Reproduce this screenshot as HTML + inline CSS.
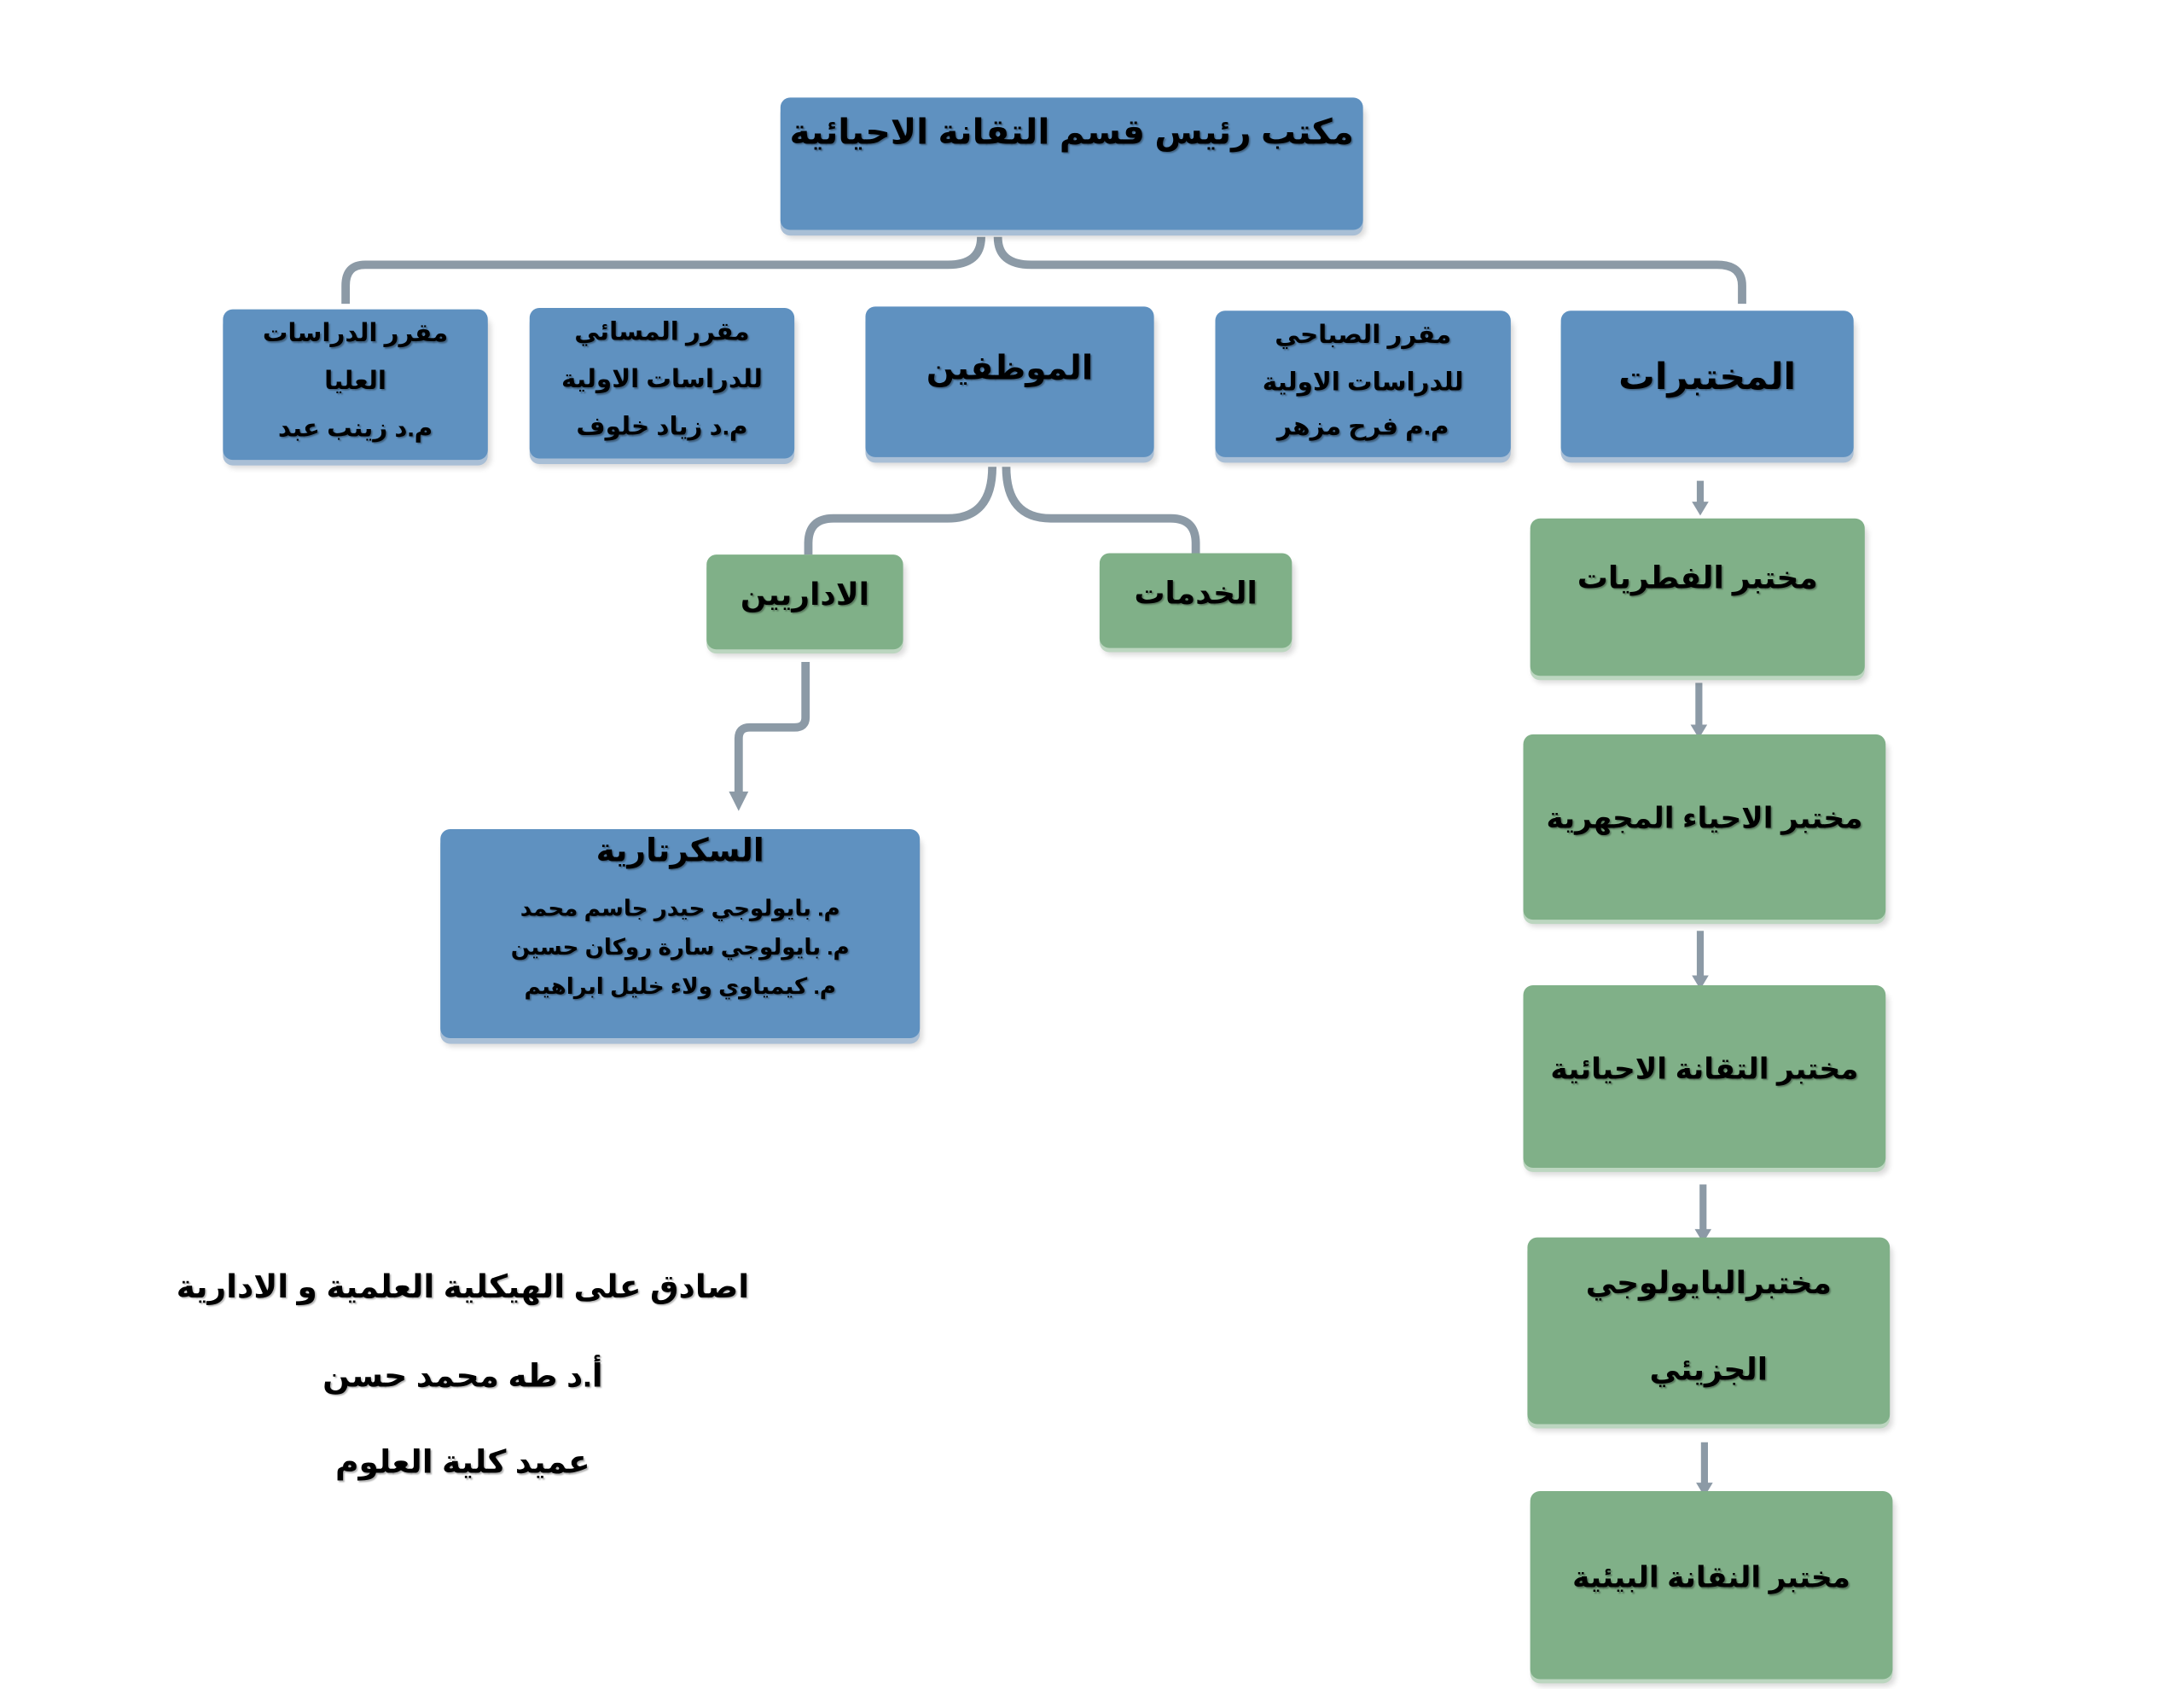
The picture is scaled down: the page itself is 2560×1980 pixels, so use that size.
<!DOCTYPE html>
<html><head><meta charset="utf-8">
<style>
html,body{margin:0;padding:0;background:#fff;width:2560px;height:1978px;overflow:hidden}
#w{position:absolute;left:0;top:0;width:1568px;height:1212px;transform:scale(1.6336);transform-origin:0 0;font-family:"Liberation Sans","DejaVu Sans",sans-serif;}
.b{position:absolute;background:#5f91c0;border-radius:7px;box-shadow:0 4px 0 #a9bfd6,2px 6px 4px rgba(0,0,0,.15);color:#000;font-weight:bold;text-align:center;direction:rtl;text-shadow:1px 1px 1px rgba(0,0,0,.35);white-space:nowrap}
.g{background:#80b088;box-shadow:0 3px 0 #bcd6c0,2px 5px 4px rgba(0,0,0,.15)}
.t{position:absolute;left:-20px;right:-20px}
svg{position:absolute;left:0;top:0}
.s{position:absolute;font-weight:bold;direction:rtl;text-align:center;width:500px;font-size:23px;white-space:nowrap;text-shadow:1px 1px 1px rgba(0,0,0,.3)}
</style></head><body><div id="w">
<svg width="1568" height="1212" fill="none" stroke="#8c9aa6" stroke-width="6">
<path d="M704 170 Q704 190 680 190 L262 190 Q248 190 248 205 L248 218"/>
<path d="M716 170 Q716 190 740 190 L1232 190 Q1250 190 1250 205 L1250 218"/>
<path d="M712 335 Q712 372 680 372 L598 372 Q580 372 580 390 L580 398"/>
<path d="M722 335 Q722 372 754 372 L840 372 Q858 372 858 390 L858 397"/>
<path d="M578 475 L578 515 Q578 522 570 522 L538 522 Q530 522 530 530 L530 570"/>
<path d="M1220 345 L1220 362 M1219 490 L1219 522 M1220 668 L1220 702 M1222 850 L1222 884 M1223 1035 L1223 1066" stroke-width="5"/>
<g fill="#8c9aa6" stroke="none">
<path d="M523 568 L537 568 L530 582Z"/>
<path d="M1214 360 L1226 360 L1220 370Z"/><path d="M1213 520 L1225 520 L1219 530Z"/>
<path d="M1214 700 L1226 700 L1220 710Z"/><path d="M1216 882 L1228 882 L1222 892Z"/>
<path d="M1217 1064 L1229 1064 L1223 1074Z"/>
</g>
</svg>
<div class="b" style="left:560px;top:70px;width:418px;height:95px"><div class="t" style="top:10px;font-size:25px">مكتب رئيس قسم التقانة الاحيائية</div></div>

<div class="b" style="left:160px;top:222px;width:190px;height:108px;font-size:18px;line-height:34px"><div class="t" style="top:0">مقرر الدراسات<br>العليا</div><div class="t" style="top:68px">م.د زينب عبد</div></div>
<div class="b" style="left:380px;top:221px;width:190px;height:108px;font-size:18px;line-height:34px"><div class="t" style="top:0">مقرر المسائي<br>للدراسات الاولية</div><div class="t" style="top:68px">م.د زياد خلوف</div></div>
<div class="b" style="left:621px;top:220px;width:207px;height:108px"><div class="t" style="top:30px;font-size:24px">الموظفين</div></div>
<div class="b" style="left:872px;top:223px;width:212px;height:105px;font-size:18px;line-height:34px"><div class="t" style="top:0">مقرر الصباحي<br>للدراسات الاولية</div><div class="t" style="top:66px">م.م فرح مزهر</div></div>
<div class="b" style="left:1120px;top:223px;width:210px;height:105px"><div class="t" style="top:32px;font-size:26px">المختبرات</div></div>

<div class="b g" style="left:507px;top:398px;width:141px;height:68px"><div class="t" style="top:16px;font-size:22px">الاداريين</div></div>
<div class="b g" style="left:789px;top:397px;width:138px;height:68px"><div class="t" style="top:16px;font-size:22px">الخدمات</div></div>

<div class="b" style="left:316px;top:595px;width:344px;height:150px"><div class="t" style="top:2px;font-size:23px">السكرتارية</div><div class="t" style="top:44px;font-size:16px;line-height:28px">م. بايولوجي حيدر جاسم محمد<br>م. بايولوجي سارة روكان حسين<br>م. كيمياوي ولاء خليل ابراهيم</div></div>

<div class="b g" style="left:1098px;top:372px;width:240px;height:113px"><div class="t" style="top:30px;font-size:22px">مختبر الفطريات</div></div>
<div class="b g" style="left:1093px;top:527px;width:260px;height:133px"><div class="t" style="top:48px;font-size:21px">مختبر الاحياء المجهرية</div></div>
<div class="b g" style="left:1093px;top:707px;width:260px;height:131px"><div class="t" style="top:48px;font-size:21px">مختبر التقانة الاحيائية</div></div>
<div class="b g" style="left:1096px;top:888px;width:260px;height:134px;line-height:62px"><div class="t" style="top:2px;font-size:22px">مختبرالبايولوجي<br>الجزيئي</div></div>
<div class="b g" style="left:1098px;top:1070px;width:260px;height:135px"><div class="t" style="top:50px;font-size:21px">مختبر النقانة البيئية</div></div>

<div class="s" style="left:82px;top:910px">اصادق على الهيكلية العلمية و الادارية</div>
<div class="s" style="left:82px;top:974px">أ.د طه محمد حسن</div>
<div class="s" style="left:82px;top:1036px">عميد كلية العلوم</div>
</div></body></html>
